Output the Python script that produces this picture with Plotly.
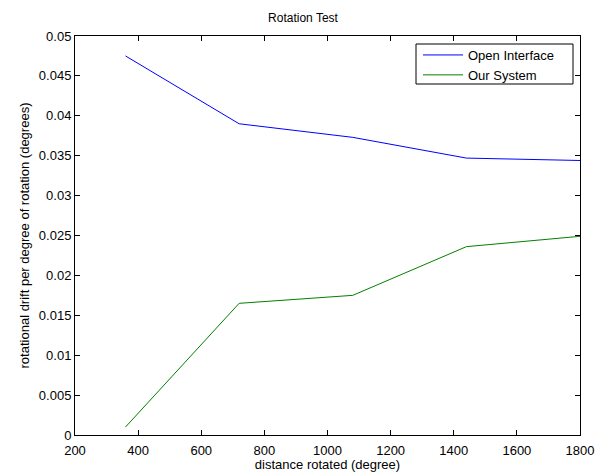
import plotly.graph_objects as go

distance = [360, 720, 1080, 1440, 1800]
open_interface = [0.0475, 0.0390, 0.0373, 0.0347, 0.0344]
our_system = [0.0010, 0.0165, 0.0175, 0.0236, 0.0249]
x_ticks = [200, 400, 600, 800, 1000, 1200, 1400, 1600, 1800]
y_ticks = [0, 0.005, 0.01, 0.015, 0.02, 0.025, 0.03, 0.035, 0.04, 0.045, 0.05]
y_tick_text = ["0", "0.005", "0.01", "0.015", "0.02", "0.025", "0.03", "0.035", "0.04", "0.045", "0.05"]

fig = go.Figure()
fig.add_trace(go.Scatter(x=distance, y=open_interface, mode="lines", name="Open Interface",
                         line=dict(color="#0000ff", width=1)))
fig.add_trace(go.Scatter(x=distance, y=our_system, mode="lines", name="Our System",
                         line=dict(color="#008000", width=1)))

fam = "Liberation Sans, Arial, sans-serif"
font = dict(family=fam, size=13, color="black")
axis_common = dict(showgrid=False, zeroline=False, showline=True, linecolor="black", linewidth=1,
                   mirror="ticks", ticks="inside", ticklen=5, tickcolor="black", tickfont=font,
                   automargin=False)

# legend frame
fig.add_shape(type="rect", xref="paper", yref="paper",
              x0=(416 - 75) / 505, x1=(573 - 75) / 505,
              y0=(435 - 84) / 399, y1=(435 - 44) / 399,
              line=dict(color="black", width=1), fillcolor="white", layer="above")

fig.update_layout(
    width=606, height=472,
    margin=dict(l=75, r=26, t=36, b=37),
    paper_bgcolor="white", plot_bgcolor="white",
    font=font,
    title=dict(text="Rotation Test", x=0.5, xanchor="center", y=1 - 18/472, yanchor="middle",
               font=dict(family=fam, size=12, color="black")),
    xaxis=dict(range=[200, 1800], tickvals=x_ticks, ticklabelstandoff=3,
               title=dict(text="distance rotated (degree)", standoff=0, font=font), **axis_common),
    yaxis=dict(range=[0, 0.05], tickvals=y_ticks, ticktext=y_tick_text,
               title=dict(text="rotational drift per degree of rotation (degrees)", standoff=6, font=font),
               **axis_common),
    legend=dict(x=(418 - 75) / 505, y=(435 - 40) / 399, xanchor="left", yanchor="top", borderwidth=0,
                bgcolor="rgba(0,0,0,0)", font=font, tracegroupgap=0, itemwidth=40),
    showlegend=True,
)

fig.write_html("out.html")
